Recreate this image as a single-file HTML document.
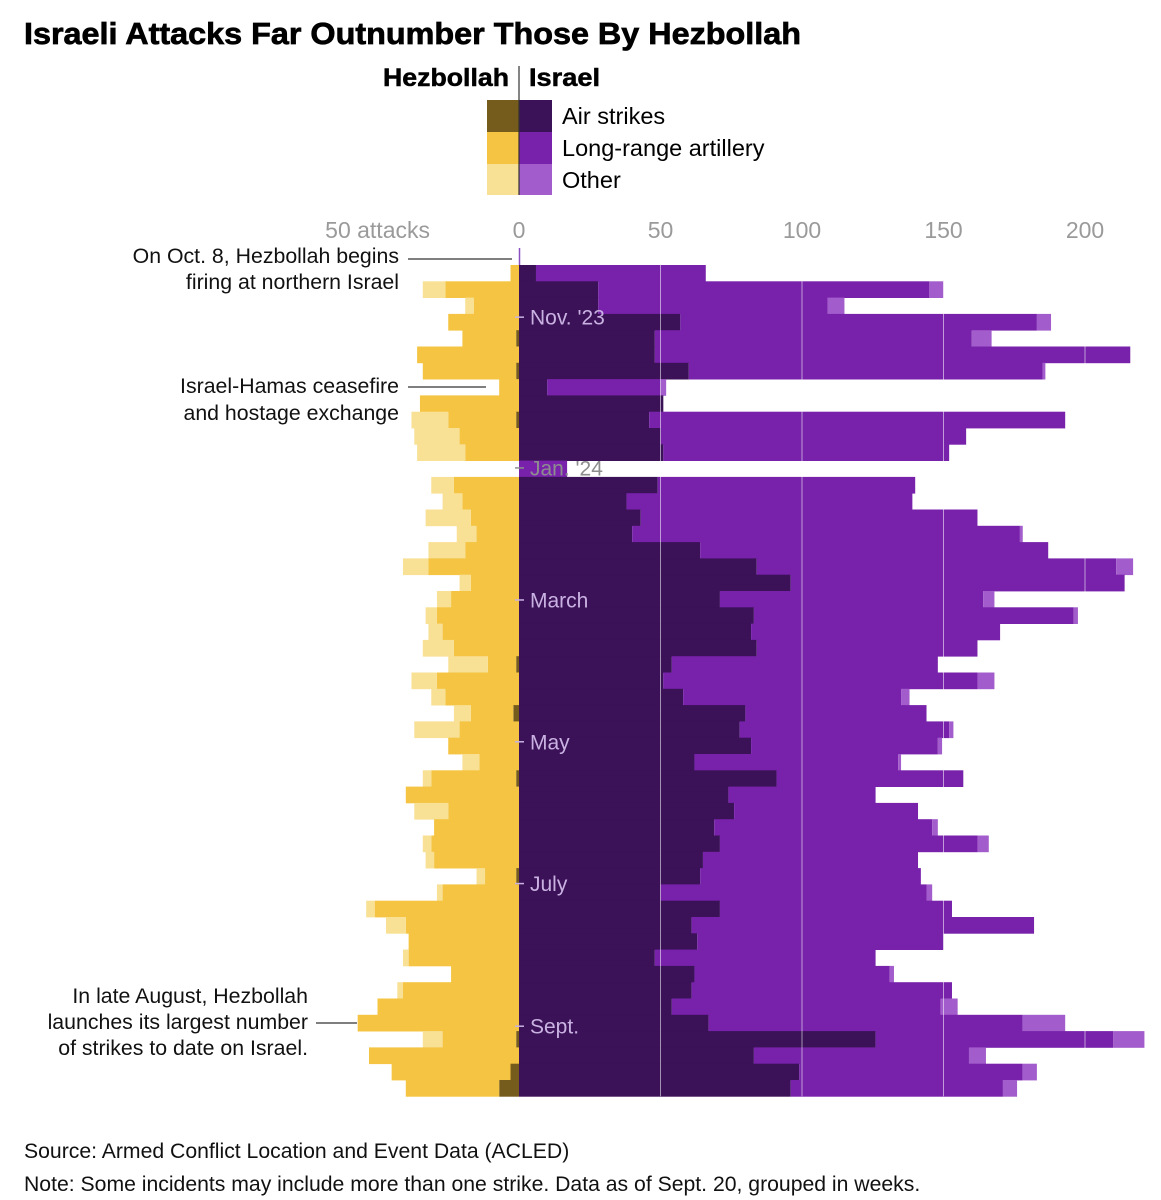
<!DOCTYPE html>
<html><head><meta charset="utf-8">
<style>
html,body{margin:0;padding:0;background:#fff;}
body{width:1161px;height:1200px;position:relative;overflow:hidden;font-family:"Liberation Sans",Arial,sans-serif;}
svg{position:absolute;left:0;top:0;}
</style></head>
<body>
<svg id="chart" width="1161" height="1200" viewBox="0 0 1161 1200">
  <text x="24" y="44" font-size="31" font-weight="bold" fill="#000" stroke="#000" stroke-width="0.7" textLength="777" lengthAdjust="spacingAndGlyphs">Israeli Attacks Far Outnumber Those By Hezbollah</text>
  <g>
    <text x="509" y="86" font-size="25" font-weight="bold" stroke="#000" stroke-width="0.5" text-anchor="end" textLength="126" lengthAdjust="spacingAndGlyphs">Hezbollah</text>
    <text x="529" y="86" font-size="25" font-weight="bold" stroke="#000" stroke-width="0.5" textLength="71" lengthAdjust="spacingAndGlyphs">Israel</text>
    <rect x="487" y="100" width="32" height="32" fill="#765c1c"/>
    <rect x="487" y="132" width="32" height="32" fill="#f4c442"/>
    <rect x="487" y="164" width="32" height="31" fill="#f8e095"/>
    <rect x="519" y="100" width="33" height="32" fill="#3b1157"/>
    <rect x="519" y="132" width="33" height="32" fill="#7822ab"/>
    <rect x="519" y="164" width="33" height="31" fill="#a35ccb"/>
    <line x1="519" y1="66" x2="519" y2="195" stroke="#333" stroke-width="1.2"/>
    <text x="562" y="124" font-size="23.5">Air strikes</text>
    <text x="562" y="156" font-size="23.5">Long-range artillery</text>
    <text x="562" y="188" font-size="23.5">Other</text>
  </g>
  <g id="axis"></g>
  <g id="bars"></g>
  <g id="grid"></g>
  <g id="months"></g>
  <g font-size="21.3" fill="#111">
    <text x="399" y="263" text-anchor="end">On Oct. 8, Hezbollah begins</text>
    <text x="399" y="289" text-anchor="end">firing at northern Israel</text>
    <line x1="408" y1="259" x2="512" y2="259" stroke="#555" stroke-width="1.5"/>
    <text x="399" y="393" text-anchor="end">Israel-Hamas ceasefire</text>
    <text x="399" y="420" text-anchor="end">and hostage exchange</text>
    <line x1="408" y1="387" x2="486" y2="387" stroke="#555" stroke-width="1.5"/>
    <text x="308" y="1003" text-anchor="end">In late August, Hezbollah</text>
    <text x="308" y="1029" text-anchor="end">launches its largest number</text>
    <text x="308" y="1055" text-anchor="end">of strikes to date on Israel.</text>
    <line x1="316" y1="1023" x2="357" y2="1023" stroke="#555" stroke-width="1.5"/>
  </g>
  <text x="24" y="1158" font-size="21.2" fill="#111">Source: Armed Conflict Location and Event Data (ACLED)</text>
  <text x="24" y="1191" font-size="21.2" fill="#111">Note: Some incidents may include more than one strike. Data as of Sept. 20, grouped in weeks.</text>
</svg>
<script>
// Weekly counts, Oct 8 2023 .. Sept 2024
const hezAir   = [0,0,0,0,1,0,1,0,0,1,0,0,0, 0,0,0,0,0,0,0,0,0,0,0,1,0, 0,2,0,0,0,1,0,0,0,0,0,1,0, 0,0,0,0,0,0,0,0,1,0,3,7];
const hezArt   = [3,26,16,25,19,36,33,7,35,24,21,19,0, 23,20,17,15,19,32,17,24,29,27,23,10,29, 26,15,21,25,14,30,40,25,30,31,30,11,27, 51,40,39,39,24,41,50,57,26,53,42,33];
const hezOther = [0,8,3,0,0,0,0,0,0,13,16,17,0, 8,7,16,7,13,9,4,5,4,5,11,14,9, 5,6,16,0,6,3,0,12,0,3,3,3,2, 3,7,0,2,0,2,0,0,7,0,0,0];
const isrAir   = [6,28,28,57,48,48,60,10,51,46,50,51,0, 49,38,43,40,64,84,96,71,83,82,84,54,51, 58,80,78,82,62,91,74,76,69,71,65,64,50, 71,61,63,48,62,61,54,67,126,83,99,96];
const isrArt   = [60,117,81,126,112,168,125,40,0,147,108,101,17, 91,101,119,137,123,127,118,93,113,88,78,94,111, 77,64,74,66,72,66,52,65,77,91,76,78,94, 82,121,87,78,69,92,95,111,84,76,79,75];
const isrOther = [0,5,6,5,7,0,1,2,0,0,0,0,0, 0,0,0,1,0,6,0,4,1.5,0,0,0,6, 3,0,1.5,1.5,1,0,0,0,2,4,0,0,2, 0,0,0,0,1.5,0,6,15,11,6,5,5];
const tickValues = [-50,0,50,100,150,200];
const tickLabels = ["50 attacks","0","50","100","150","200"];
// month start positions in weeks since Oct 8 (fractional)
const monthWeeks = [3.2,12.45,20.55,29.25,37.95,46.7];
const monthNames = ["Nov. '23","Jan. '24","March","May","July","Sept."];

const NS="http://www.w3.org/2000/svg";
const X0=519, PX=2.83, TOP=265, RH=16.3;
function xScale(v){return X0+v*PX;}
function yScale(i){return TOP+i*RH;}
function mk(tag,attrs,parent){const e=document.createElementNS(NS,tag);for(const k in attrs)e.setAttribute(k,attrs[k]);parent.appendChild(e);return e;}

const bars=document.getElementById('bars');
const colors={hAir:"#765c1c",hArt:"#f4c442",hOth:"#f8e095",iAir:"#3b1157",iArt:"#7822ab",iOth:"#a35ccb"};
const stub=mk('line',{x1:X0+0.5,y1:248,x2:X0+0.5,y2:TOP,stroke:"#8a4fc0","stroke-width":1.5},bars);


for(let i=0;i<isrAir.length;i++){
  const y=yScale(i), h=RH+0.4;
  let a=0;
  const segL=[[hezAir[i],colors.hAir,'hez-air'],[hezArt[i],colors.hArt,'hez-artillery'],[hezOther[i],colors.hOth,'hez-other']];
  for(const [v,c,n] of segL){
    if(v>0){const r=mk('rect',{x:xScale(-(a+v)),y:y,width:v*PX,height:h,fill:c},bars);
      
      }
    a+=v;
  }
  a=0;
  const segR=[[isrAir[i],colors.iAir,'isr-air'],[isrArt[i],colors.iArt,'isr-artillery'],[isrOther[i],colors.iOth,'isr-other']];
  for(const [v,c,n] of segR){
    if(v>0){const r=mk('rect',{x:xScale(a),y:y,width:v*PX,height:h,fill:c},bars);
      
      }
    a+=v;
  }
}
const grid=document.getElementById('grid');
const bottom=yScale(isrAir.length);
[50,100,150,200].forEach(v=>{
  const l=mk('line',{x1:xScale(v),y1:TOP,x2:xScale(v),y2:bottom,stroke:"#fff","stroke-opacity":0.55,"stroke-width":1},grid);
  
  
});
const axis=document.getElementById('axis');
tickValues.forEach((v,k)=>{
  const t=mk('text',{x:xScale(v),y:238,"font-size":23,fill:"#9a9a9a","text-anchor":"middle"},axis);
  if(k===0){t.setAttribute('x',430);t.setAttribute('text-anchor','end');}
  t.textContent=tickLabels[k];
  
  
});
const months=document.getElementById('months');
monthWeeks.forEach((w,k)=>{
  const yc=yScale(w);
  const r=Math.floor(w);
  const onWhite = isrAir[r]===0 && isrArt[r]<30;
  const col = onWhite ? "#8d8d8d" : "#c9b2e2";
  const tk=mk('line',{x1:X0-4,y1:yc,x2:X0+5,y2:yc,stroke:col,"stroke-width":1.5},months);
  
  
  const t=mk('text',{x:X0+11,y:yc+7.5,"font-size":21,fill:col},months);
  t.textContent=monthNames[k];
  
  
});
</script>
</body></html>
